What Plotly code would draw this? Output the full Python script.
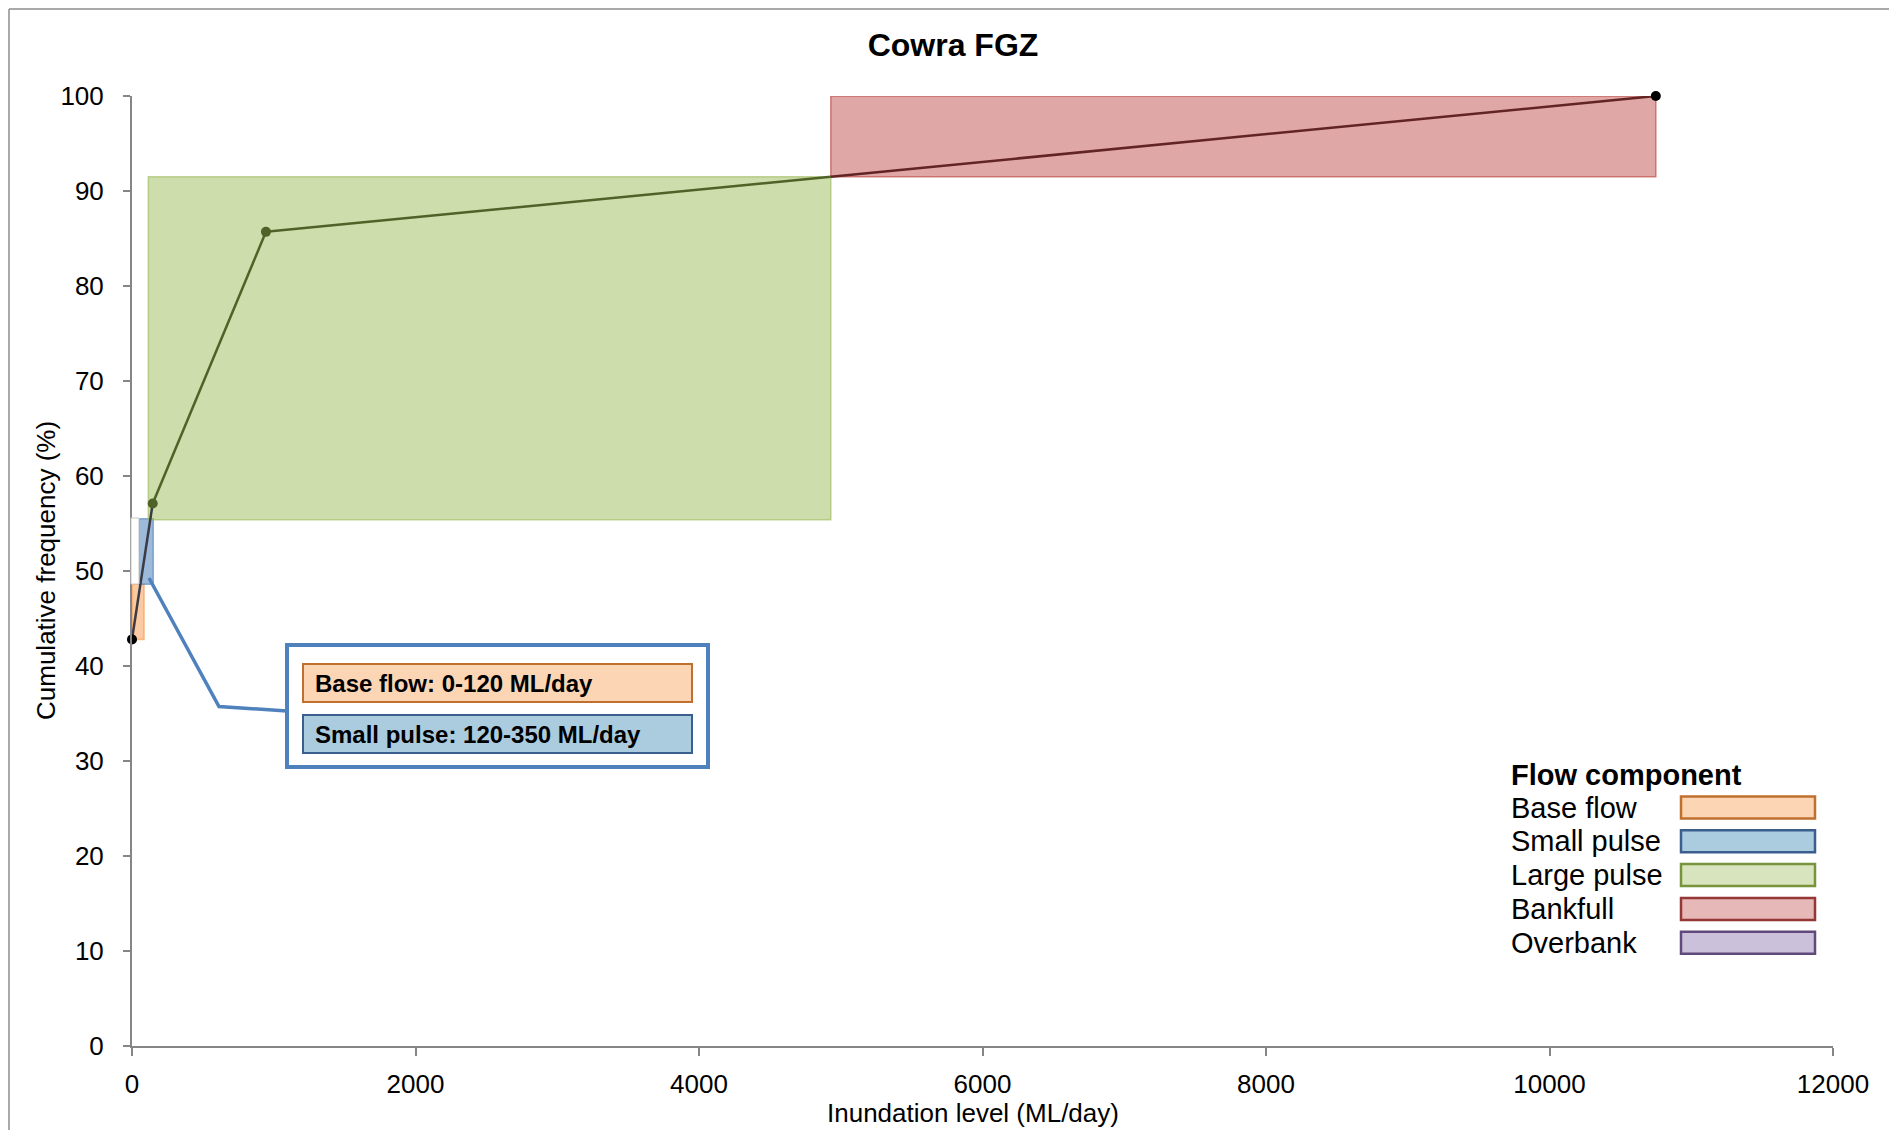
import plotly.graph_objects as go

# flow components (boxes drawn on the curve)
component_names = ["Base flow", "Small pulse", "Large pulse", "Bankfull", "Overbank"]
box_x0 = [0, 50, 115, 4930]
box_x1 = [85, 150, 4930, 10750]
box_y0 = [42.8, 48.6, 55.4, 91.5]
box_y1 = [48.6, 55.5, 91.5, 100]

# cumulative frequency curve
flow_x = [0, 146, 945, 4930, 10750]
flow_y = [42.8, 57.1, 85.7, 91.5, 100]

callout_labels = ["Base flow: 0-120 ML/day", "Small pulse: 120-350 ML/day"]

x_ticks = [0, 2000, 4000, 6000, 8000, 10000, 12000]
y_ticks = [0, 10, 20, 30, 40, 50, 60, 70, 80, 90, 100]

# colours
box_fill = ["rgba(247,150,70,0.5)", "rgba(79,129,189,0.55)", "rgba(155,187,89,0.5)", "rgba(192,80,77,0.5)"]
box_line = ["rgba(247,150,70,0.6)", "rgba(79,129,189,0.6)", "rgba(155,187,89,0.6)", "rgba(192,80,77,0.7)"]
legend_fill = ["#fcd5b5", "#abcbdf", "#d7e4bd", "#e6b9b8", "#ccc1da"]
legend_line = ["#c0702e", "#3a5f8f", "#77933c", "#953735", "#604a7b"]
seg_color = ["#3b3b45", "#4f6228", "#4f6228", "#632523"]
marker_color = ["#000000", "#4f6228", "#4f6228", None, "#000000"]

FONT = "Liberation Sans, Arial, sans-serif"
W, H = 1897, 1138
OFF = 8  # page body margin
L, R, T, B = 132, 1833, 96, 1046  # plot area in page pixels


def px(x):
    return (x - L) / (R - L)


def py(y):
    return (B - y) / (B - T)


fig = go.Figure()

# curve segments
for i in range(len(flow_x) - 1):
    fig.add_trace(go.Scatter(
        x=flow_x[i:i + 2], y=flow_y[i:i + 2], mode="lines",
        line=dict(color=seg_color[i], width=2.5),
        showlegend=False, hoverinfo="skip",
    ))

# markers
mx = [x for x, c in zip(flow_x, marker_color) if c]
my = [y for y, c in zip(flow_y, marker_color) if c]
mc = [c for c in marker_color if c]
fig.add_trace(go.Scatter(
    x=mx, y=my, mode="markers", cliponaxis=False,
    marker=dict(color=mc, size=10),
    showlegend=False,
))

shapes = []
for i in range(len(box_x0)):
    shapes.append(dict(
        type="rect", xref="x", yref="y", layer="below",
        x0=box_x0[i], x1=box_x1[i], y0=box_y0[i], y1=box_y1[i],
        fillcolor=box_fill[i], line=dict(color=box_line[i], width=1.5),
    ))

# thin white gap box next to the axis
shapes.append(dict(
    type="rect", xref="paper", yref="paper", layer="above",
    x0=px(131), x1=px(139), y0=py(584), y1=py(518),
    fillcolor="white", line=dict(color="#c8c8c8", width=1),
))

# callout
shapes.append(dict(
    type="path", xref="paper", yref="paper", layer="above",
    path=f"M {px(287)},{py(711)} L {px(219)},{py(706.5)} L {px(149)},{py(578)}",
    line=dict(color="#4f81bd", width=3.5),
))
shapes.append(dict(
    type="rect", xref="paper", yref="paper", layer="above",
    x0=px(287), x1=px(708), y0=py(767), y1=py(645),
    fillcolor="white", line=dict(color="#4f81bd", width=4),
))
callout_top = [664, 715]
annotations = []
for i, lab in enumerate(callout_labels):
    top = callout_top[i]
    shapes.append(dict(
        type="rect", xref="paper", yref="paper", layer="above",
        x0=px(303), x1=px(692), y0=py(top + 38), y1=py(top),
        fillcolor=legend_fill[i], line=dict(color=legend_line[i], width=2),
    ))
    annotations.append(dict(
        xref="paper", yref="paper", x=px(313), y=py(top + 19),
        xanchor="left", yanchor="middle", showarrow=False,
        text=f"<b>{lab}</b>", font=dict(family=FONT, size=24, color="black"),
    ))

# legend (drawn by hand)
annotations.append(dict(
    xref="paper", yref="paper", x=px(1509), y=py(775),
    xanchor="left", yanchor="middle", showarrow=False,
    text="<b>Flow component</b>", font=dict(family=FONT, size=29, color="black"),
))
for i, name in enumerate(component_names):
    cy = 807.5 + i * 33.8
    annotations.append(dict(
        xref="paper", yref="paper", x=px(1509), y=py(cy),
        xanchor="left", yanchor="middle", showarrow=False,
        text=name, font=dict(family=FONT, size=29, color="black"),
    ))
    shapes.append(dict(
        type="rect", xref="paper", yref="paper", layer="above",
        x0=px(1681), x1=px(1815), y0=py(cy + 11), y1=py(cy - 11),
        fillcolor=legend_fill[i], line=dict(color=legend_line[i], width=2.5),
    ))

# axis titles
annotations.append(dict(
    xref="paper", yref="paper", x=px(973), y=py(1113),
    xanchor="center", yanchor="middle", showarrow=False,
    text="Inundation level (ML/day)", font=dict(family=FONT, size=26, color="black"),
))
annotations.append(dict(
    xref="paper", yref="paper", x=px(46), y=py(571),
    xanchor="center", yanchor="middle", showarrow=False, textangle=-90,
    text="Cumulative frequency (%)", font=dict(family=FONT, size=26, color="black"),
))

# outer frame (top and left edges visible)
shapes.append(dict(type="line", xref="paper", yref="paper",
                   x0=px(9), x1=px(W + 5), y0=py(9), y1=py(9),
                   line=dict(color="#8c8c8c", width=1.5)))
shapes.append(dict(type="line", xref="paper", yref="paper",
                   x0=px(9), x1=px(9), y0=py(9), y1=py(H + 5),
                   line=dict(color="#8c8c8c", width=1.5)))

fig.update_layout(
    width=W - 2 * OFF, height=H - 2 * OFF,
    margin=dict(l=L - OFF, r=W - OFF - R, t=T - OFF, b=H - OFF - B, pad=0),
    paper_bgcolor="white", plot_bgcolor="white",
    title=dict(text="<b>Cowra FGZ</b>", xref="container", yref="container",
               x=(953 - OFF) / (W - 2 * OFF), y=1 - (45 - OFF) / (H - 2 * OFF),
               xanchor="center", yanchor="middle",
               font=dict(family=FONT, size=32, color="black")),
    shapes=shapes, annotations=annotations,
    showlegend=False,
)
fig.update_xaxes(
    range=[0, 12000], tickvals=x_ticks, ticktext=[str(v) for v in x_ticks],
    showgrid=False, zeroline=False, showline=True, linecolor="#868686", linewidth=2,
    ticks="outside", ticklen=8, tickwidth=1.5, tickcolor="#868686",
    tickfont=dict(family=FONT, size=26, color="black"), automargin=False,
    ticklabelstandoff=6,
)
fig.update_yaxes(
    range=[0, 100], tickvals=y_ticks, ticktext=[str(v) for v in y_ticks],
    showgrid=False, zeroline=False, showline=True, linecolor="#868686", linewidth=2,
    ticks="outside", ticklen=7, tickwidth=1.5, tickcolor="#868686",
    tickfont=dict(family=FONT, size=26, color="black"), automargin=False,
    ticklabelstandoff=14,
)

fig.write_html("out.html")
